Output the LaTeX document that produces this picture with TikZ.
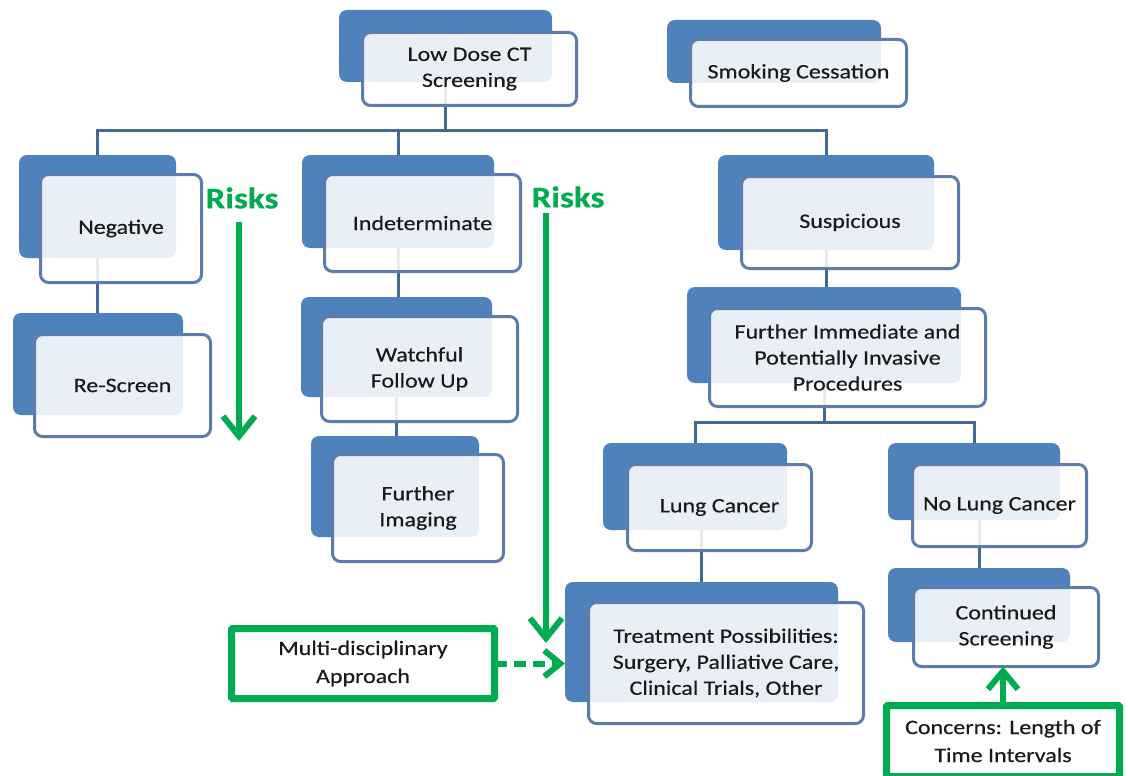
\documentclass[tikz,border=0pt]{standalone}
\usepackage{fontspec}
\setmainfont{Carlito}[FakeStretch=1.17,FakeBold=0.4]
\usetikzlibrary{arrows.meta,backgrounds}
\definecolor{bblue}{RGB}{79,129,189}
\definecolor{fblue}{RGB}{92,125,172}
\definecolor{cblue}{RGB}{68,104,150}
\definecolor{gr}{RGB}{0,172,80}
\definecolor{txt}{RGB}{25,25,25}
\tikzset{
 backbox/.style={fill=bblue, rounded corners=8pt, inner sep=0pt, outer sep=0pt},
 frontbox/.style={fill=white, fill opacity=0.88, text opacity=1, draw=fblue, line width=3pt, rounded corners=8pt, inner sep=2pt, outer sep=0pt, align=center, text=txt, font=\fontsize{20.5}{26}\selectfont},
 conn/.style={draw=cblue, line width=3pt},
 greenbox/.style={draw=gr, line width=7pt, fill=white, rounded corners=1pt, align=center, text=txt, inner sep=0pt, outer sep=0pt, font=\fontsize{20.5}{28}\selectfont},
 risk/.style={text=gr, inner sep=0pt, font=\fontsize{30}{30}\selectfont\bfseries},
 garrow/.style={draw=gr, line width=6pt, -{Straight Barb[length=20pt,width=32pt]}},
}
\newcommand\mkback[5]{\node[backbox,minimum width=#4pt,minimum height=#5pt] (#1) at (#2,#3) {};}
\newcommand\mkfront[6]{\node[frontbox,minimum width=#4pt,minimum height=#5pt] (#1) at (#2,#3) {#6};}
\begin{document}
\begin{tikzpicture}[x=1pt,y=-1pt]
\useasboundingbox (0,0) rectangle (1128,776);

% back boxes
\mkback{ldctB}{445.5}{46}{213}{72}
\mkback{smokeB}{774}{51.5}{214}{63}
\mkback{negB}{97.5}{206.5}{157}{103}
\mkback{rescB}{98}{364}{170}{102}
\mkback{indetB}{398}{201.5}{192}{93}
\mkback{watchB}{396.5}{347}{191}{100}
\mkback{imgB}{395}{486.5}{168}{101}
\mkback{suspB}{826}{202.5}{216}{95}
\mkback{fipB}{824}{335}{274}{96}
\mkback{lungB}{695}{486.5}{184}{87}
\mkback{nolungB}{974}{481.5}{172}{77}
\mkback{treatB}{701.5}{642}{273}{120}
\mkback{contB}{979}{605}{182}{74}

% front boxes
\mkfront{ldct}{469.5}{69}{214}{73}{Low Dose CT\\Screening}
\mkfront{smoke}{798.5}{73}{216}{67}{Smoking Cessation}
\mkfront{neg}{121}{228.5}{161}{108}{Negative}
\mkfront{resc}{122.5}{385.5}{176}{102}{Re-Screen}
\mkfront{indet}{422.5}{223}{196}{97}{Indeterminate}
\mkfront{watch}{419.5}{369}{196}{105}{Watchful\\Follow Up}
\mkfront{img}{418}{508}{171}{107}{Further\\Imaging}
\mkfront{susp}{850}{222.5}{217}{92}{Suspicious}
\mkfront{fip}{847.5}{357.5}{276}{98}{Further Immediate and\\Potentially Invasive\\Procedures}
\mkfront{lung}{719.5}{507.5}{184}{86}{Lung Cancer}
\mkfront{nolung}{999.5}{505.5}{174}{82}{No Lung Cancer}
\mkfront{treat}{726}{663}{275}{121}{Treatment Possibilities:\\Surgery, Palliative Care,\\Clinical Trials, Other}
\mkfront{cont}{1006}{627}{185}{79}{Continued\\Screening}

% tree connectors
\coordinate (bus1) at (445.5,130);
\coordinate (bus2) at (824,422);
\begin{scope}[on background layer]
\fill[white] (0,0) rectangle (1128,776);
\draw[conn] (ldctB.south) -- (bus1);
\draw[conn] (negB.north) |- (bus1) -| (suspB.north);
\draw[conn] (indetB.north) -- (indetB.north |- bus1);
\draw[conn] (negB.south) -- (negB.south |- rescB.north);
\draw[conn] (indetB.south) -- (indetB.south |- watchB.north);
\draw[conn] (watchB.south) -- (watchB.south |- imgB.north);
\draw[conn] (suspB.south) -- (suspB.south |- fipB.north);
\draw[conn] (fipB.south) -- (bus2);
\draw[conn] (lungB.north) |- (bus2) -| (nolungB.north);
\draw[conn] (treatB.north) -- (treatB.north |- lungB.south);
\draw[conn] (contB.north) -- (contB.north |- nolungB.south);
\end{scope}

% green annotations
\node[risk] (risk1) at (242,198) {Risks};
\node[risk] (risk2) at (568,197) {Risks};
\coordinate (r1a) at (239,222);
\coordinate (r1b) at (239,441);
\coordinate (r2a) at (546,213);
\coordinate (r2b) at (546,643);
\draw[garrow] (r1a) -- (r1b);
\draw[garrow] (r2a) -- (r2b);

\node[greenbox, minimum width=263pt, minimum height=70pt] (multi) at (363,663.5) {Multi-disciplinary\\Approach};
\draw[garrow, dash pattern=on 12pt off 7pt, -{Straight Barb[length=16pt,width=26pt]}] (multi.east) -- (multi.east -| treatB.west);

\node[greenbox, minimum width=233pt, minimum height=71pt] (conc) at (1003,741) {Concerns: Length of\\Time Intervals};
\draw[garrow, -{Straight Barb[length=18pt,width=30pt]}] (conc.north) -- (conc.north |- cont.south);
\end{tikzpicture}
\end{document}
